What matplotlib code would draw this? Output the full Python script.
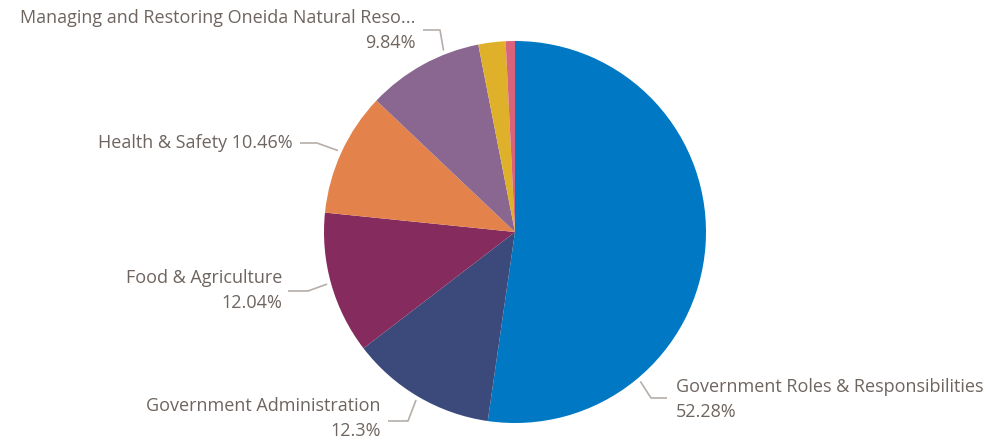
import numpy as np
import matplotlib
matplotlib.use("Agg")
import matplotlib.pyplot as plt

# slice data (clockwise from 12 o'clock)
labels = ["Government Roles & Responsibilities", "Government Administration",
          "Food & Agriculture", "Health & Safety",
          "Managing and Restoring Oneida Natural Reso...", "Other A", "Other B"]
values = [52.28, 12.3, 12.04, 10.46, 9.84, 2.30, 0.78]
colors = ["#0078C4", "#3B4A7A", "#862B5E", "#E3834B", "#8A6790", "#DFB12A", "#D9637A"]

TXT = "#6E6560"
LINE = "#B5AEA9"

W, H = 990, 444
cx, cy, R = 515, H - 232, 191


def py(y):
    # pixel row (from top) -> data y
    return H - y


def main():
    plt.rcParams['font.family'] = ['Open Sans', 'DejaVu Sans']
    fig = plt.figure(figsize=(9.9, 4.44), dpi=100)
    ax = fig.add_axes([0, 0, 1, 1])

    ax.pie(values, colors=colors, startangle=90, counterclock=False,
           center=(cx, cy), radius=R, frame=True,
           wedgeprops=dict(linewidth=0))
    ax.set_xlim(0, W)
    ax.set_ylim(0, H)
    ax.set_aspect('equal')
    ax.axis('off')

    # leader lines: (angle on pie edge, elbow px, end px)
    leaders = [
        (-50, (651, 398), (667, 398)),
        (-120.5, (408, 421), (388, 421)),
        (195.5, (308, 291), (288, 291)),
        (155.3, (317, 143), (300, 143)),
        (111.5, (440, 30), (423, 30)),
    ]
    for ang, elb, end in leaders:
        a = np.deg2rad(ang)
        sx = cx + (R + 4) * np.cos(a)
        sy = cy + (R + 4) * np.sin(a)
        ax.plot([sx, elb[0], end[0]], [sy, py(elb[1]), py(end[1])],
                color=LINE, lw=1.2, solid_capstyle='butt')

    fs = 13
    ax.text(676, py(387), labels[0], color=TXT, fontsize=fs, ha='left', va='center')
    ax.text(676, py(412), f"{values[0]}%", color=TXT, fontsize=fs, ha='left', va='center')

    ax.text(381, py(406), labels[1], color=TXT, fontsize=fs, ha='right', va='center')
    ax.text(381, py(431), f"{values[1]}%", color=TXT, fontsize=fs, ha='right', va='center')

    ax.text(282, py(278), labels[2], color=TXT, fontsize=fs, ha='right', va='center')
    ax.text(282, py(303), f"{values[2]}%", color=TXT, fontsize=fs, ha='right', va='center')

    ax.text(293, py(143), f"{labels[3]} {values[3]}%", color=TXT, fontsize=fs,
            ha='right', va='center')

    ax.text(416, py(18), labels[4], color=TXT, fontsize=fs, ha='right', va='center')
    ax.text(416, py(43), f"{values[4]}%", color=TXT, fontsize=fs, ha='right', va='center')

    fig.savefig("out.png", dpi=100, facecolor='white')


if __name__ == '__main__':
    main()
